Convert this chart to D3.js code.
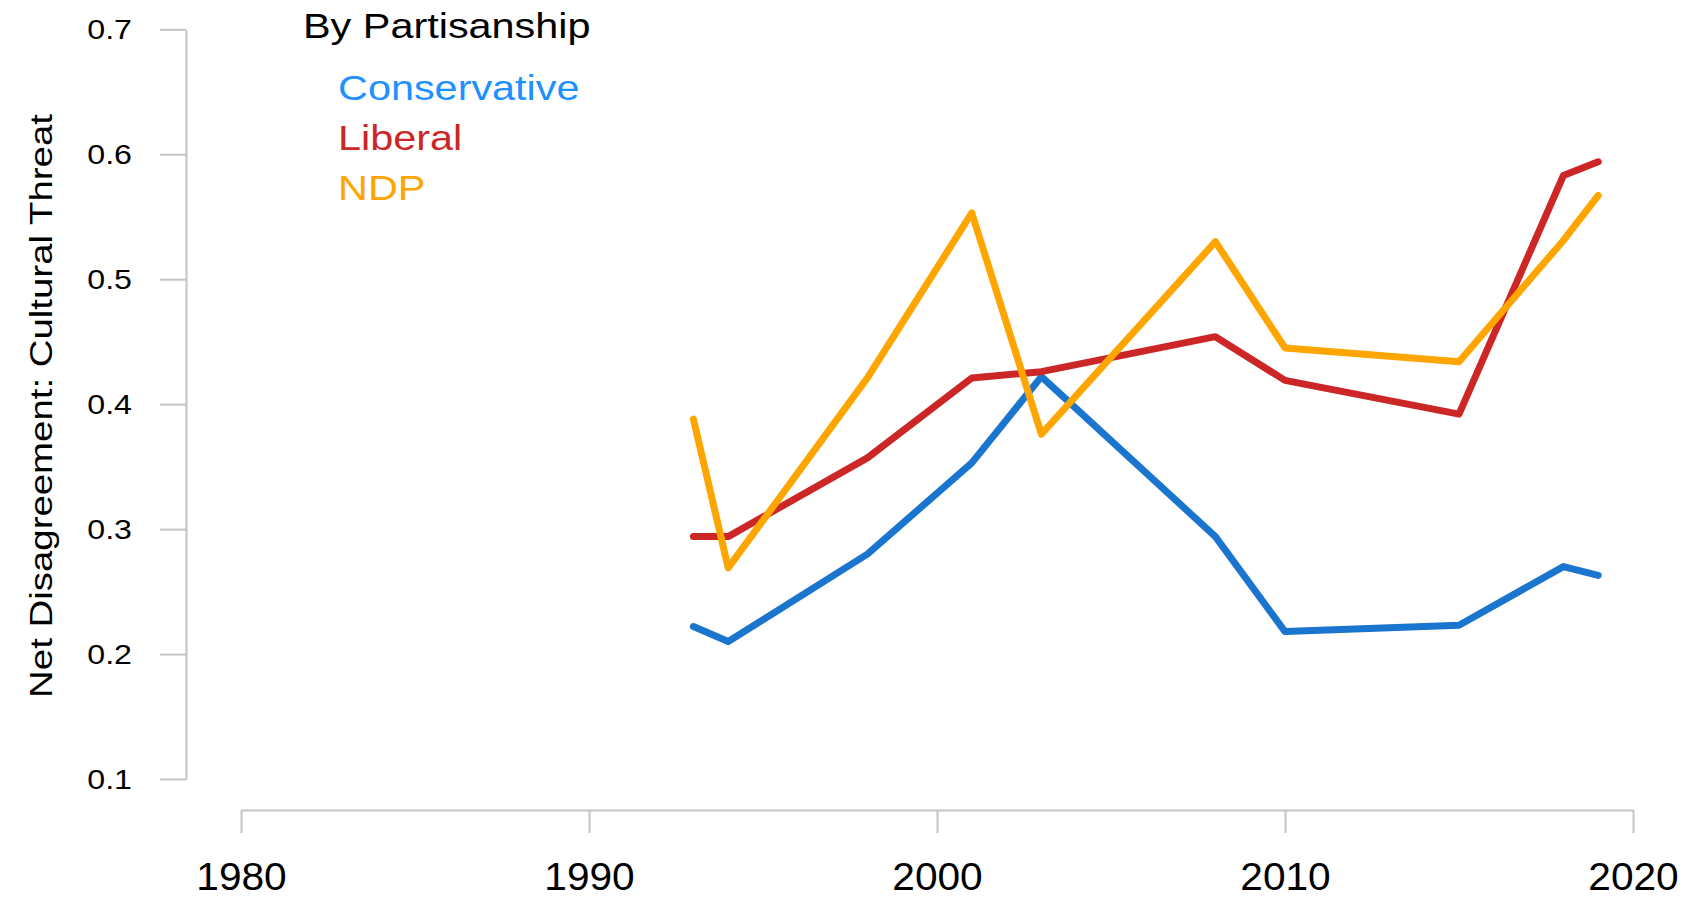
<!DOCTYPE html>
<html>
<head>
<meta charset="utf-8">
<script src="https://cdn.jsdelivr.net/npm/d3@7"></script>
<style>
	body { margin: 0; background: #fff; }
	svg { display: block; font-family: "Liberation Sans", Arial, sans-serif; }
	.axis path, .axis line { stroke: #c4c4c4; stroke-width: 2; }
	.axis text { fill: #000; }
</style>
</head>
<body>
<svg id="chart" width="1688" height="898"></svg>
<script>
// survey years and values
var years        = [1993, 1994, 1998, 2001, 2003, 2008, 2010, 2015, 2018, 2019];
var conservative = [0.222, 0.210, 0.280, 0.353, 0.422, 0.294, 0.218, 0.223, 0.270, 0.263];
var liberal      = [0.294, 0.294, 0.357, 0.421, 0.426, 0.454, 0.419, 0.392, 0.583, 0.594];
var ndp          = [0.388, 0.269, 0.421, 0.553, 0.376, 0.530, 0.445, 0.434, 0.531, 0.567];

var xTicks = [1980, 1990, 2000, 2010, 2020];
var yTicks = [0.1, 0.2, 0.3, 0.4, 0.5, 0.6, 0.7];

var seriesNames  = ["Conservative", "Liberal", "NDP"];
var lineColors   = ["#1a75cf", "#cd2626", "#ffa500"];
var legendColors = ["#1e90ff", "#cd2626", "#ffa500"];

var svg = d3.select("#chart");

var x = d3.scaleLinear().domain([1980, 2020]).range([241, 1633]);
var y = d3.scaleLinear().domain([0.1, 0.7]).range([779, 29.3]);

// y axis
var yAxis = svg.append("g")
	.attr("class", "axis")
	.attr("transform", "translate(186,0)")
	.call(d3.axisLeft(y).tickValues(yTicks).tickFormat(d3.format(".1f"))
		.tickSizeInner(26).tickSizeOuter(0).tickPadding(28));
yAxis.selectAll("text")
	.style("font-size", "28.5px")
	.attr("x", 0)
	.attr("transform", "translate(-54,0) scale(1.13,1)");

// x axis
var xAxis = svg.append("g")
	.attr("class", "axis")
	.attr("transform", "translate(0,810)")
	.call(d3.axisBottom(x).tickValues(xTicks).tickFormat(d3.format("d"))
		.tickSizeInner(23).tickSizeOuter(0).tickPadding(30));
xAxis.selectAll("text")
	.style("font-size", "38px")
	.attr("transform", "scale(1.07,1)");

// y label
svg.append("text")
	.attr("transform", "translate(52,406) rotate(-90) scale(1.2,1)")
	.attr("text-anchor", "middle")
	.style("font-size", "32px")
	.text("Net Disagreement:  Cultural Threat");

// lines
var line = d3.line()
	.x(function(d) { return x(d[0]); })
	.y(function(d) { return y(d[1]); });

var allSeries = [conservative, liberal, ndp];
svg.selectAll("path.series")
	.data(allSeries)
	.enter().append("path")
	.attr("class", "series")
	.attr("fill", "none")
	.attr("stroke", function(d, i) { return lineColors[i]; })
	.attr("stroke-width", 7)
	.attr("stroke-linecap", "round")
	.attr("stroke-linejoin", "round")
	.attr("d", function(vals) { return line(years.map(function(yr, j) { return [yr, vals[j]]; })); });

// legend
svg.append("text")
	.attr("transform", "translate(303,38) scale(1.15,1)")
	.style("font-size", "36px")
	.text("By Partisanship");

svg.selectAll("text.legend")
	.data(seriesNames)
	.enter().append("text")
	.attr("class", "legend")
	.attr("transform", function(d, i) { return "translate(338," + (100 + i * 50) + ") scale(1.15,1)"; })
	.attr("fill", function(d, i) { return legendColors[i]; })
	.style("font-size", "36px")
	.text(function(d) { return d; });
</script>
</body>
</html>
